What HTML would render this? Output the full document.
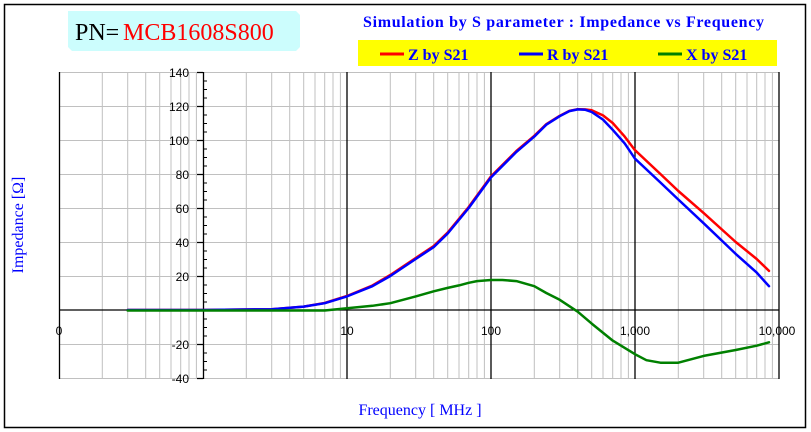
<!DOCTYPE html>
<html><head><meta charset="utf-8"><style>
body{margin:0;background:#fff;width:811px;height:432px;overflow:hidden}
svg{display:block}
.s{font-family:"Liberation Sans",sans-serif}
.f{font-family:"Liberation Serif",serif}
</style></head><body>
<svg width="811" height="432" viewBox="0 0 811 432" xmlns="http://www.w3.org/2000/svg">
<rect x="4.5" y="4.5" width="801" height="423" fill="#fff" stroke="#000" stroke-width="1.5"/>
<path d="M68 11 H296 L300 15 V47 L296 51 H72 L68 47 Z" fill="#ccfdfd"/>
<text class="f" x="75" y="40" font-size="24" fill="#000">PN=</text>
<text class="f" x="123" y="40" font-size="24" fill="#f00">MCB1608S800</text>
<text class="f" x="363" y="27" font-size="16" font-weight="bold" fill="#0000ff" textLength="401">Simulation by S parameter : Impedance vs Frequency</text>
<rect x="358" y="40" width="419" height="26" fill="#ffff00"/>
<line x1="380" y1="54" x2="404" y2="54" stroke="#f00" stroke-width="3"/>
<line x1="519" y1="54" x2="543" y2="54" stroke="#00f" stroke-width="3"/>
<line x1="658" y1="54" x2="682" y2="54" stroke="#008000" stroke-width="3"/>
<g font-size="16" font-weight="bold" fill="#0000ff">
<text class="f" x="408" y="60">Z by S21</text><text class="f" x="547" y="60">R by S21</text><text class="f" x="686" y="60">X by S21</text></g>
<g stroke="#c0c0c0" stroke-width="1" fill="none">
<path d="M102.3 72V379M127.7 72V379M145.7 72V379M159.7 72V379M171 72V379M180.7 72V379M189 72V379M196.4 72V379
M246.3 72V379M271.7 72V379M289.7 72V379M303.7 72V379M315 72V379M324.7 72V379M333 72V379M340.4 72V379
M390.3 72V379M415.7 72V379M433.7 72V379M447.7 72V379M459 72V379M468.7 72V379M477 72V379M484.4 72V379
M534.3 72V379M559.7 72V379M577.7 72V379M591.7 72V379M603 72V379M612.7 72V379M621 72V379M628.4 72V379
M678.3 72V379M703.7 72V379M721.7 72V379M735.7 72V379M747 72V379M756.7 72V379M765 72V379M772.4 72V379
M59 72.5H779M59 106.5H779M59 140.5H779M59 174.5H779M59 208.5H779M59 242.5H779M59 276.5H779M59 344.5H779M59 378.5H779"/>
</g>
<g stroke="#000" stroke-width="1.3" fill="none">
<path d="M59.5 72V379M203.5 72V379M347 72V379M491 72V379M635 72V379M779 72V379M59 310H779"/>
<path d="M197 72.5H203M197 106.5H203M197 140.5H203M197 174.5H203M197 208.5H203M197 242.5H203M197 276.5H203M197 344.5H203M197 378.5H203" />
<path d="M203 81H207M203 89.5H207M203 98H207M203 115H207M203 123.5H207M203 132H207M203 149H207M203 157.5H207M203 166H207M203 183H207M203 191.5H207M203 200H207M203 217H207M203 225.5H207M203 234H207M203 251H207M203 259.5H207M203 268H207M203 285H207M203 293.5H207M203 302H207M203 319H207M203 327.5H207M203 336H207M203 353H207M203 361.5H207M203 370H207" stroke-width="1"/>
</g>
<g font-size="12" fill="#000" text-anchor="end">
<text class="s" x="189" y="77">140</text><text class="s" x="189" y="111">120</text><text class="s" x="189" y="145">100</text><text class="s" x="189" y="179">80</text>
<text class="s" x="189" y="213">60</text><text class="s" x="189" y="247">40</text><text class="s" x="189" y="281">20</text><text class="s" x="189" y="349">-20</text><text class="s" x="189" y="383">-40</text>
</g>
<g font-size="12" fill="#000" text-anchor="middle">
<text class="s" x="59" y="335">0</text><text class="s" x="347" y="335">10</text><text class="s" x="491" y="335">100</text><text class="s" x="635" y="335">1,000</text><text class="s" x="777" y="335">10,000</text>
</g>
<text class="f" x="420" y="415" font-size="16" fill="#0000ff" text-anchor="middle">Frequency [ MHz ]</text>
<text class="f" transform="translate(23,225) rotate(-90)" font-size="16" fill="#0000ff" text-anchor="middle">Impedance [Ω]</text>
<g fill="none" stroke-width="2.5" stroke-linejoin="round" stroke-linecap="round">
<polyline stroke="#f00" points="127.7,310 203,310 271.7,309.2 303.7,306.6 324.7,303 347,296 372.4,285.5 390.3,275 415.7,258 433.7,246 447.7,232.5 468.7,207 491,176.4 516.4,151 534.3,135.8 546.3,124.2 559.7,115.8 569.4,110.8 577.7,109.2 585,109.4 591.7,110.3 603,115.4 612.7,123 624.7,136.6 635,150.2 660.4,174 678.3,191 703.7,213.1 735.7,242 756.7,259 769,270.9"/>
<polyline stroke="#00f" points="127.7,310 203,310 271.7,309.2 303.7,306.6 324.7,303.2 347,296.4 372.4,286.2 390.3,276 415.7,259 433.7,247.1 447.7,233.5 468.7,208 491,177.4 516.4,151.9 534.3,136.6 546.3,124.7 559.7,116.2 569.4,111.1 577.7,109.4 585,109.7 591.7,112 603,119.6 612.7,129.8 624.7,143.4 635,158.7 660.4,182.5 678.3,199.5 703.7,223.3 735.7,253.9 756.7,272.6 769,286.2"/>
<polyline stroke="#008000" points="127.7,310.5 324.7,310.5 347,308.3 372.4,305.8 390.3,303.2 415.7,296.4 433.7,291.3 447.7,287.9 459,285.4 468.7,282.8 477,281.1 491,280 502.4,280 516.4,281.1 534.3,286.2 546.3,293 559.7,299.8 577.7,311.7 591.7,323.6 612.7,340.6 635,354.2 646.4,360.2 660.4,362.7 678.3,362.7 703.7,355.9 735.7,350 756.7,345.7 769,342.3"/>
</g>
</svg>
</body></html>
